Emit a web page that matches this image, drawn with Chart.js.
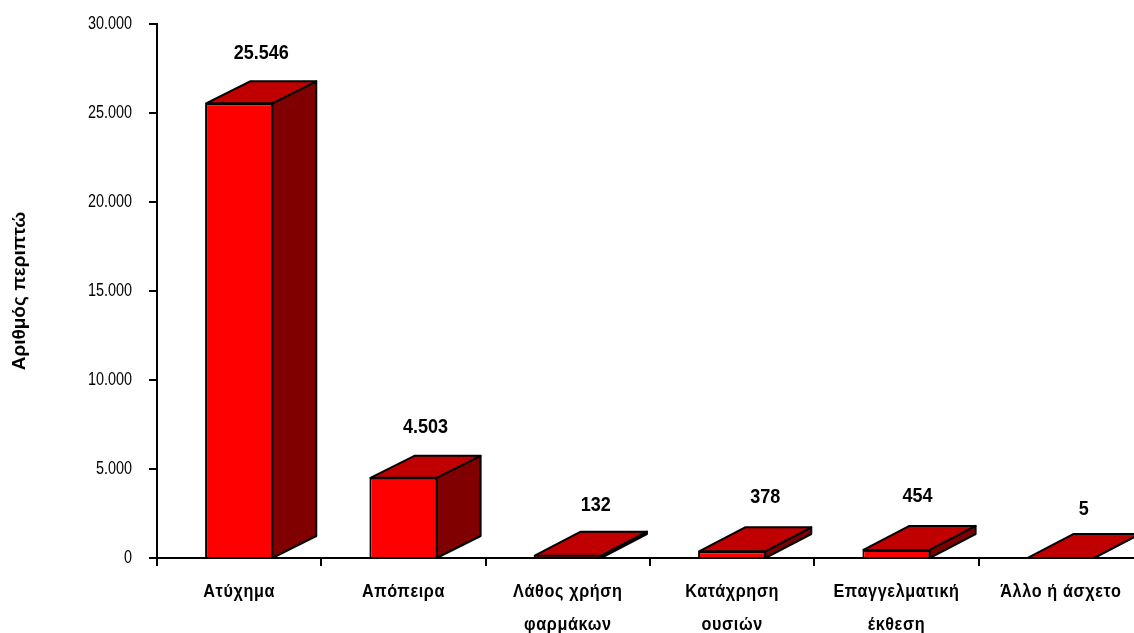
<!DOCTYPE html>
<html><head><meta charset="utf-8">
<script src="https://cdn.jsdelivr.net/npm/chart.js@4"></script>
<style>
html,body{margin:0;padding:0;background:#fff;overflow:hidden;width:1134px;height:633px}
#wrap{position:relative;width:1160px;height:633px}
</style></head><body>
<div id="wrap"><canvas id="c" width="1160" height="633"></canvas></div>
<script>
const categories = [["Ατύχημα"],["Απόπειρα"],["Λάθος χρήση","φαρμάκων"],["Κατάχρηση","ουσιών"],["Επαγγελματική","έκθεση"],["Άλλο ή άσχετο"]];
const cases = [25546,4503,132,378,454,5];
const valueLabels = ["25.546","4.503","132","378","454","5"];
const axisTitle = "Αριθμός περιπτώ";
const depthX = [44,44,46,46,46,46];
const depthY = [22,22,24,24,24,24];
const labelNudgeX = [0,0,5,10,-2,0];
const labelRise = [28,28,26,30,29,24];
const FONT = '"Liberation Sans",Arial,sans-serif';

/* The reference uses a condensed face: squeeze text along its own direction. */
const canvas = document.getElementById('c');
const rawCtx = canvas.getContext('2d');
const rawFill = rawCtx.fillText.bind(rawCtx);
rawCtx.fillText = function(text,x,y,maxW){
  const f = rawCtx.font;
  let sx = 0.8, ls = '0px';
  if (f.startsWith('bold 18px')) { sx = 0.9; ls = '0.7px'; }
  else if (f.startsWith('bold 20px')) { sx = 0.9; ls = '0px'; }
  else if (f.startsWith('bold 19px')) { sx = 1; ls = '0px'; }
  rawCtx.save();
  rawCtx.letterSpacing = ls;
  rawCtx.translate(x,y);
  rawCtx.scale(sx,1);
  rawFill(text,0,0);
  rawCtx.restore();
};

const box3d = {
  id:'box3d',
  afterDatasetsDraw(chart){
    const ctx = chart.ctx, meta = chart.getDatasetMeta(0), y = chart.scales.y;
    ctx.save();
    ctx.lineJoin='round'; ctx.strokeStyle='#000'; ctx.lineWidth=2;
    meta.data.forEach((bar,i)=>{
      const w = bar.width/2, l = bar.x-w+1, r = bar.x+w-1;
      const top = y.getPixelForValue(cases[i]), base = y.getPixelForValue(0);
      const dx = depthX[i], dy = depthY[i];
      ctx.fillStyle='#800000';
      ctx.beginPath(); ctx.moveTo(r,top); ctx.lineTo(r+dx,top-dy); ctx.lineTo(r+dx,base-dy); ctx.lineTo(r,base); ctx.closePath(); ctx.fill(); ctx.stroke();
      ctx.fillStyle='#C00000';
      ctx.beginPath(); ctx.moveTo(l,top); ctx.lineTo(l+dx,top-dy); ctx.lineTo(r+dx,top-dy); ctx.lineTo(r,top); ctx.closePath(); ctx.fill(); ctx.stroke();
      ctx.fillStyle='#000';
      ctx.font='bold 20px '+FONT;
      ctx.textAlign='center'; ctx.textBaseline='middle';
      ctx.fillText(valueLabels[i], bar.x+dx/2+labelNudgeX[i], top-dy-labelRise[i]);
    });
    ctx.restore();
  }
};

new Chart(canvas,{
  type:'bar',
  data:{labels:categories,datasets:[{data:cases,backgroundColor:'#FF0000',borderColor:'#000',borderWidth:2,barPercentage:0.415,categoryPercentage:1}]},
  plugins:[box3d],
  options:{
    responsive:false,animation:false,
    layout:{padding:{top:24,right:17,bottom:0,left:0}},
    plugins:{legend:{display:false},tooltip:{enabled:false}},
    scales:{
      x:{
        grid:{display:true,drawOnChartArea:false,color:'#000',tickLength:8,lineWidth:2},
        border:{color:'#000',width:2},
        ticks:{color:'#000',maxRotation:0,autoSkip:false,padding:10,font:{family:FONT,size:18,weight:'bold',lineHeight:'33px'}},
        afterFit(s){s.height=75;}
      },
      y:{
        min:0,max:30000,
        grid:{display:true,drawOnChartArea:false,color:'#000',tickLength:8,lineWidth:2},
        border:{color:'#000',width:2},
        ticks:{stepSize:5000,color:'#000',padding:17,font:{family:FONT,size:18},callback:v=>v===0?'0':(v/1000)+'.000'},
        title:{display:true,text:axisTitle,color:'#000',padding:{top:8,bottom:0},font:{family:FONT,size:19,weight:'bold'}},
        afterFit(s){s.width=157;s.paddingTop=0;s.paddingBottom=0;}
      }
    }
  }
});
</script>
</body></html>
